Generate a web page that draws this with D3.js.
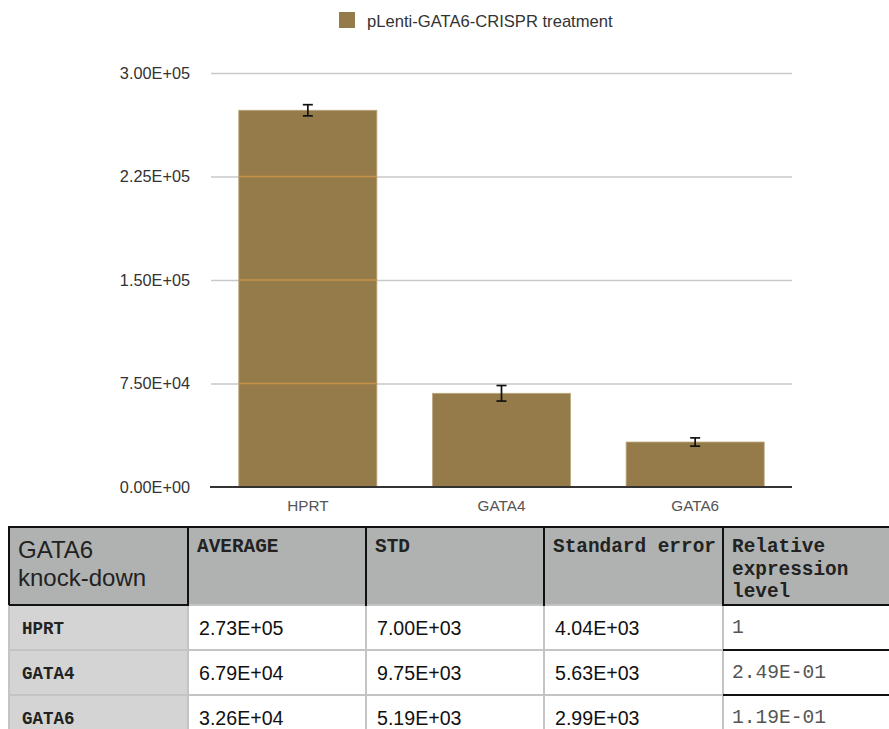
<!DOCTYPE html>
<html><head><meta charset="utf-8">
<script src="https://cdn.jsdelivr.net/npm/d3@7"></script>
<style>body{margin:0;background:#fff;overflow:hidden} svg{display:block}</style>
</head><body><svg id="c" width="889" height="729"></svg>
<script>
// ---- data ----
const categories = ["HPRT", "GATA4", "GATA6"];
const averages = [273000, 67900, 32600];
const stdErrors = [4040, 5630, 2990];
const seriesName = "pLenti-GATA6-CRISPR treatment";
const yTicks = [0, 75000, 150000, 225000, 300000];
const yTickLabels = ["0.00E+00", "7.50E+04", "1.50E+05", "2.25E+05", "3.00E+05"];
const headerFirst = ["GATA6", "knock-down"];
const headerCols = [["AVERAGE"], ["STD"], ["Standard error"], ["Relative", "expression", "level"]];
const tableAverage = ["2.73E+05", "6.79E+04", "3.26E+04"];
const tableStd = ["7.00E+03", "9.75E+03", "5.19E+03"];
const tableSE = ["4.04E+03", "5.63E+03", "2.99E+03"];
const tableRelative = ["1", "2.49E-01", "1.19E-01"];

// ---- chart ----
const svg = d3.select("#c");
const SANS = "'Liberation Sans', Arial, Helvetica, sans-serif";
const MONO = "'Liberation Mono', 'Courier New', monospace";
const barColor = "#967b4a";

const pL = 211, pR = 792, pT = 73, pB = 487;
const y = d3.scaleLinear().domain([0, 300000]).range([pB, pT]);
const x = d3.scaleBand().domain(categories).range([pL, pR])
  .paddingInner(0.287).paddingOuter(0.1435);

// gridlines
const grid = svg.append("g").attr("transform", `translate(${pL},0)`)
  .call(d3.axisLeft(y).tickValues(yTicks.filter(t => t > 0)).tickSize(-(pR - pL)).tickFormat(""));
grid.select(".domain").remove();
grid.selectAll("line").attr("stroke", "#c9c9c9").attr("stroke-width", 1.5);

// bars
const data = categories.map((c, i) => ({c, v: averages[i], se: stdErrors[i]}));
svg.append("g").selectAll("rect").data(data).join("rect")
  .attr("x", d => x(d.c)).attr("width", x.bandwidth())
  .attr("y", d => y(d.v)).attr("height", d => y(0) - y(d.v))
  .attr("fill", barColor).attr("stroke", "#bda97f").attr("stroke-width", 0.8);

// gridlines seen through bars
const overlay = [];
data.forEach(d => yTicks.forEach(t => { if (t > 0 && t < d.v) overlay.push({c: d.c, t}); }));
svg.append("g").selectAll("line").data(overlay).join("line")
  .attr("x1", d => x(d.c)).attr("x2", d => x(d.c) + x.bandwidth())
  .attr("y1", d => y(d.t)).attr("y2", d => y(d.t))
  .attr("stroke", "#c6924a").attr("stroke-width", 1.5);

// error bars
const eb = svg.append("g").attr("stroke", "#111").attr("stroke-width", 1.7);
data.forEach(d => {
  const cx = x(d.c) + x.bandwidth() / 2;
  eb.append("line").attr("x1", cx).attr("x2", cx).attr("y1", y(d.v + d.se)).attr("y2", y(d.v - d.se));
  eb.append("line").attr("x1", cx - 5).attr("x2", cx + 5).attr("y1", y(d.v + d.se)).attr("y2", y(d.v + d.se));
  eb.append("line").attr("x1", cx - 5).attr("x2", cx + 5).attr("y1", y(d.v - d.se)).attr("y2", y(d.v - d.se));
});

// baseline
svg.append("line").attr("x1", pL - 1).attr("x2", pR).attr("y1", y(0)).attr("y2", y(0))
  .attr("stroke", "#333").attr("stroke-width", 2);

// y tick labels
const ya = svg.append("g").attr("transform", `translate(${pL},0)`)
  .call(d3.axisLeft(y).tickValues(yTicks).tickSize(0).tickPadding(21)
    .tickFormat((d, i) => yTickLabels[i]));
ya.select(".domain").remove();
ya.selectAll("text").attr("font-family", SANS).attr("font-size", 16.3).attr("fill", "#333");

// x labels
const xa = svg.append("g").attr("transform", `translate(0,${pB})`)
  .call(d3.axisBottom(x).tickSize(0).tickPadding(13));
xa.select(".domain").remove();
xa.selectAll("text").attr("font-family", SANS).attr("font-size", 15.3).attr("fill", "#555");

// legend
svg.append("rect").attr("x", 339).attr("y", 12).attr("width", 16).attr("height", 16).attr("fill", barColor);
svg.append("text").attr("x", 367).attr("y", 27).attr("font-family", SANS).attr("font-size", 16.6)
  .attr("fill", "#333").text(seriesName);

// ---- table ----
const colX = [9, 188, 366, 544, 723, 905];
const rowY = [527, 605, 650, 695, 742];
const tg = svg.append("g");
tg.append("rect").attr("x", colX[0]).attr("y", rowY[0]).attr("width", colX[5] - colX[0]).attr("height", rowY[1] - rowY[0]).attr("fill", "#afb2b1");
tg.append("rect").attr("x", colX[0]).attr("y", rowY[1]).attr("width", colX[1] - colX[0]).attr("height", rowY[4] - rowY[1]).attr("fill", "#d4d4d4");

const line = (x1, y1, x2, y2, c) => tg.append("line").attr("x1", x1).attr("y1", y1).attr("x2", x2).attr("y2", y2)
  .attr("stroke", c).attr("stroke-width", 2);
const GRAY = "#c4c4c4", BLACK = "#111";
colX.slice(0, 5).forEach(cx => line(cx, rowY[1], cx, rowY[4], GRAY));
[rowY[1], rowY[2], rowY[3]].forEach(ry => line(colX[0], ry, colX[4], ry, GRAY));
line(colX[0] - 1, rowY[0], colX[5], rowY[0], BLACK);
line(colX[0], rowY[0], colX[0], rowY[1], BLACK);
colX.slice(1, 5).forEach(cx => line(cx, rowY[0], cx, rowY[1] + 1, BLACK));
line(colX[0], rowY[1], colX[1], rowY[1], BLACK);
line(colX[4], rowY[1], colX[5], rowY[1], BLACK);
[rowY[2], rowY[3]].forEach(ry => line(colX[4], ry, colX[5], ry, BLACK));

headerFirst.forEach((t, i) => tg.append("text").attr("x", colX[0] + 9).attr("y", 558 + i * 28)
  .attr("font-family", SANS).attr("font-size", 24).attr("fill", "#222").text(t));
headerCols.forEach((lines, ci) => lines.forEach((t, li) => tg.append("text")
  .attr("x", colX[ci + 1] + 9).attr("y", 552 + li * 22.5)
  .attr("font-family", MONO).attr("font-weight", "bold").attr("font-size", 19.4).attr("fill", "#222").text(t)));

categories.forEach((c, r) => {
  const ry = rowY[r + 1];
  tg.append("text").attr("x", colX[0] + 13).attr("y", ry + 29).attr("font-family", MONO)
    .attr("font-weight", "bold").attr("font-size", 17.5).attr("fill", "#222").text(c);
  [tableAverage, tableStd, tableSE].forEach((arr, k) => tg.append("text")
    .attr("x", colX[k + 1] + 11).attr("y", ry + 30).attr("font-family", SANS)
    .attr("font-size", 19.6).attr("fill", "#111").text(arr[r]));
  tg.append("text").attr("x", colX[4] + 9).attr("y", ry + 28).attr("font-family", MONO)
    .attr("font-size", 19.6).attr("fill", "#555").text(tableRelative[r]);
});
</script></body></html>
